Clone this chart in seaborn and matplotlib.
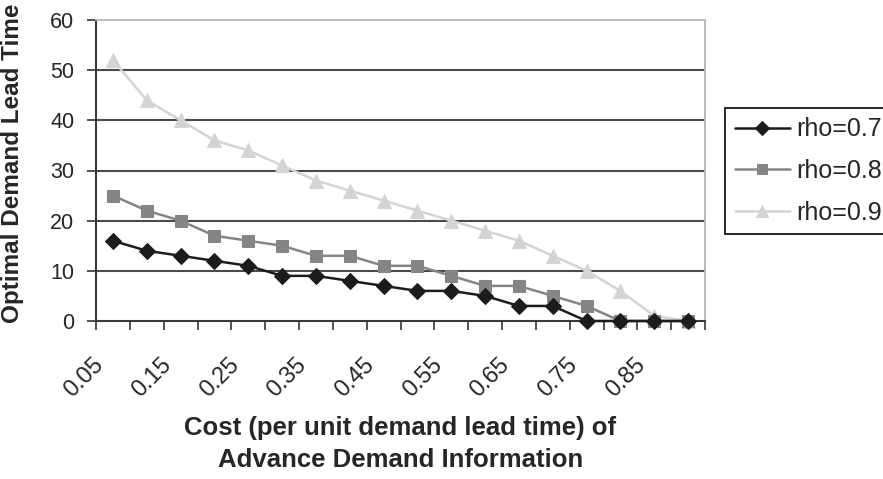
import matplotlib
matplotlib.use("Agg")
import matplotlib.pyplot as plt
import matplotlib.transforms as mtransforms
import seaborn as sns
import pandas as pd
import numpy as np
from matplotlib.ticker import FixedLocator

cost = [0.05, 0.10, 0.15, 0.20, 0.25, 0.30, 0.35, 0.40, 0.45,
        0.50, 0.55, 0.60, 0.65, 0.70, 0.75, 0.80, 0.85, 0.90]
rho07 = [16, 14, 13, 12, 11, 9, 9, 8, 7, 6, 6, 5, 3, 3, 0, 0, 0, 0]
rho08 = [25, 22, 20, 17, 16, 15, 13, 13, 11, 11, 9, 7, 7, 5, 3, 0, 0, 0]
rho09 = [52, 44, 40, 36, 34, 31, 28, 26, 24, 22, 20, 18, 16, 13, 10, 6, 1, 0]
series_names = ["rho=0.7", "rho=0.8", "rho=0.9"]
xtick_labels = ["0.05", "0.15", "0.25", "0.35", "0.45", "0.55", "0.65", "0.75", "0.85"]
yticks = [0, 10, 20, 30, 40, 50, 60]

df = pd.DataFrame({
    "cost": cost * 3,
    "value": rho07 + rho08 + rho09,
    "series": sum([[n] * len(cost) for n in series_names], []),
})

sns.set_theme(style="white")
plt.rcParams['font.family'] = ['Liberation Sans', 'DejaVu Sans']

fig = plt.figure(figsize=(8.83, 4.79), dpi=100)
ax = fig.add_axes([96 / 883, 1 - 321 / 479, (705 - 96) / 883, (321 - 20) / 479])

palette = {"rho=0.7": "#1c1c1c", "rho=0.8": "#858585", "rho=0.9": "#d4d4d4"}
markers = {"rho=0.7": "D", "rho=0.8": "s", "rho=0.9": "^"}
sizes_m = {"rho=0.7": 8, "rho=0.8": 9, "rho=0.9": 9.5}
zorders = {"rho=0.7": 5, "rho=0.8": 4, "rho=0.9": 3}

for name in series_names:
    sub = df[df.series == name]
    sns.lineplot(data=sub, x="cost", y="value", ax=ax, color=palette[name],
                 marker=markers[name], markersize=sizes_m[name],
                 markeredgecolor=palette[name], linewidth=1.8, label=name,
                 zorder=zorders[name], clip_on=False)

ax.set_xlim(0.025, 0.925)
ax.set_ylim(0, 60)
ax.set_yticks(yticks)
ax.set_yticklabels([str(v) for v in yticks], fontsize=15.5)
major = [float(s) for s in xtick_labels]
ax.set_xticks(major)
ax.set_xticklabels(xtick_labels, rotation=45, ha="right", va="center",
                   rotation_mode="anchor", fontsize=16.8)
ax.xaxis.set_minor_locator(FixedLocator(np.arange(0.025, 0.93, 0.05)))
ax.tick_params(axis="x", which="major", length=0, pad=29)
ax.tick_params(axis="x", which="minor", length=6.5, width=1.3, color="#444444",
               direction="out", bottom=True)
ax.tick_params(axis="y", which="major", length=6.5, width=1.3, color="#444444",
               direction="out", left=True, pad=9)
offset = mtransforms.ScaledTranslation(-13 / 100, 0, fig.dpi_scale_trans)
for tick in ax.xaxis.get_major_ticks():
    tick.label1.set_transform(tick.label1.get_transform() + offset)

for v in [10, 20, 30, 40, 50]:
    ax.axhline(v, color="#4a4a4a", linewidth=1.5, zorder=1)

for s in ["top", "right"]:
    ax.spines[s].set_color("#b5b5b5")
    ax.spines[s].set_linewidth(1.3)
for s in ["left", "bottom"]:
    ax.spines[s].set_color("#3a3a3a")
    ax.spines[s].set_linewidth(1.5)

ax.set_ylabel("Optimal Demand Lead Time", fontsize=17.5, fontweight="bold")
ax.yaxis.set_label_coords((24 - 96) / 609, (321 - 163) / 301)
ax.set_xlabel("Cost (per unit demand lead time) of\nAdvance Demand Information",
              fontsize=18.5, fontweight="bold", labelpad=10, linespacing=1.45)

leg = ax.legend(loc="upper left", bbox_to_anchor=(725 / 883, 1 - 108 / 479),
                bbox_transform=fig.transFigure,
                fontsize=18, frameon=True, fancybox=False, framealpha=1,
                edgecolor="#000000", handlelength=2.2, labelspacing=0.7,
                borderpad=0.38, handletextpad=0.25, borderaxespad=0, markerscale=0.85)
leg.get_frame().set_linewidth(1.2)

fig.savefig("out.png", dpi=100)
